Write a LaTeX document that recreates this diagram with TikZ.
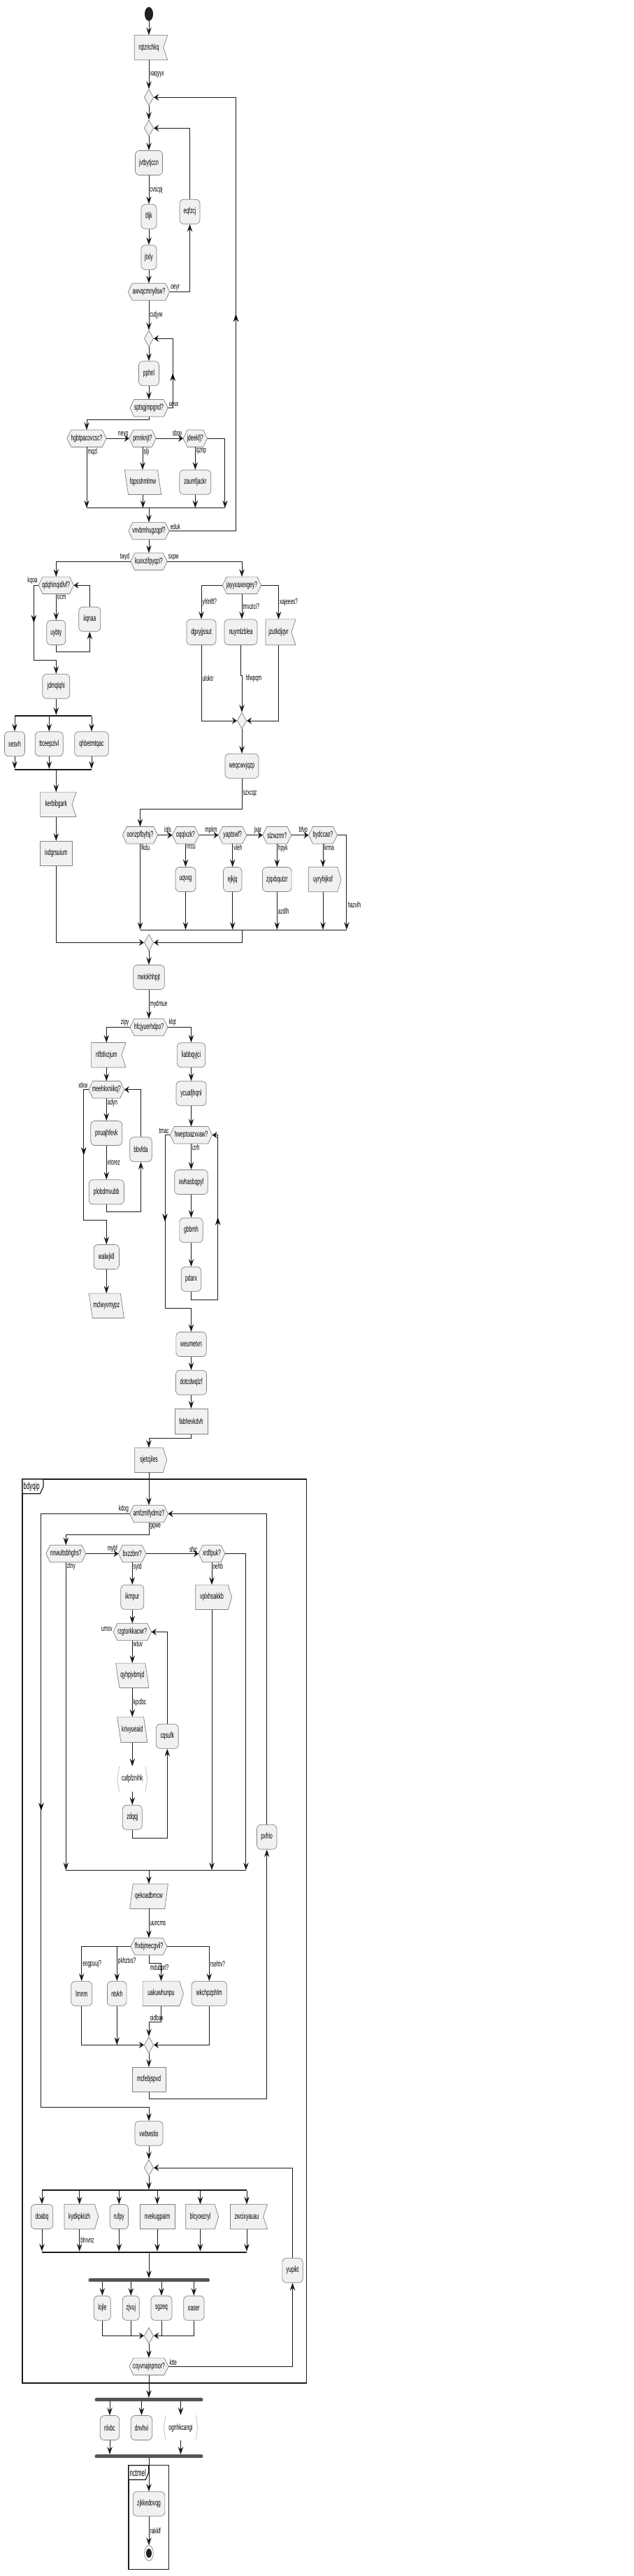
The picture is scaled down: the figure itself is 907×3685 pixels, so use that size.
\documentclass[tikz,border=0pt]{standalone}
\usepackage{fontspec}
\setmainfont{Liberation Sans}[FakeStretch=0.56]
\usepackage{tikz}
\usetikzlibrary{shapes.geometric, arrows.meta, decorations.markings}

\definecolor{nf}{HTML}{F1F1F1}
\definecolor{bc}{HTML}{808080}
\definecolor{lc}{HTML}{1A1A1A}
\definecolor{dk}{HTML}{222222}
\definecolor{fk}{HTML}{555555}

\pgfdeclarelayer{bg}
\pgfdeclarelayer{back}
\pgfsetlayers{bg,back,main}

% outline of a special node, put behind its text
\newcommand{\shapeoutline}[1]{\pgfextra{\begin{pgfonlayer}{back}\filldraw[outl] #1;\end{pgfonlayer}}}

\begin{document}
\begin{tikzpicture}[x=1pt, y=-1pt,
    txt/.style={shape=rectangle, inner sep=0pt, font=\fontsize{12}{13}\selectfont},
    outl/.style={draw=bc, fill=nf, line width=0.7pt},
    act/.style={txt, draw=bc, fill=nf, line width=0.7pt, rounded corners=6pt, minimum height=35pt},
    rbox/.style={txt, draw=bc, fill=nf, line width=0.7pt, minimum height=35pt},
    hexa/.style={txt, minimum height=24pt, append after command={\shapeoutline{(\tikzlastnode.west) -- ([xshift=6pt]\tikzlastnode.north west) -- ([xshift=-6pt]\tikzlastnode.north east) -- (\tikzlastnode.east) -- ([xshift=-6pt]\tikzlastnode.south east) -- ([xshift=6pt]\tikzlastnode.south west) -- cycle}}},
    sendbox/.style={txt, minimum height=35pt, append after command={\shapeoutline{(\tikzlastnode.north west) -- (\tikzlastnode.north east) -- ([xshift=5.5pt]\tikzlastnode.east) -- (\tikzlastnode.south east) -- (\tikzlastnode.south west) -- cycle}}},
    flagbox/.style={txt, minimum height=35pt, append after command={\shapeoutline{(\tikzlastnode.north west) -- ([xshift=6pt]\tikzlastnode.north east) -- (\tikzlastnode.east) -- ([xshift=6pt]\tikzlastnode.south east) -- (\tikzlastnode.south west) -- cycle}}},
    paraL/.style={txt, minimum height=35pt, append after command={\shapeoutline{(\tikzlastnode.north west) -- ([xshift=-5.3pt]\tikzlastnode.north east) -- (\tikzlastnode.south east) -- ([xshift=5.3pt]\tikzlastnode.south west) -- cycle}}},
    paraR/.style={txt, minimum height=35pt, append after command={\shapeoutline{([xshift=4.6pt]\tikzlastnode.north west) -- (\tikzlastnode.north east) -- ([xshift=-4.6pt]\tikzlastnode.south east) -- (\tikzlastnode.south west) -- cycle}}},
    bracketbox/.style={txt, minimum height=36pt, append after command={\pgfextra{\begin{pgfonlayer}{back}
        \draw[draw=bc!55, line width=0.7pt] ([xshift=3pt]\tikzlastnode.north west) -- (\tikzlastnode.west) -- ([xshift=3pt]\tikzlastnode.south west);
        \draw[draw=bc!55, line width=0.7pt] ([xshift=-3pt]\tikzlastnode.north east) -- (\tikzlastnode.east) -- ([xshift=-3pt]\tikzlastnode.south east);
        \end{pgfonlayer}}}},
    merge/.style={shape=diamond, draw=bc, fill=nf, line width=0.7pt, inner sep=0pt, minimum width=13.4pt, minimum height=23.4pt},
    splitbar/.style={shape=rectangle, fill=lc, inner sep=0pt, minimum height=1.8pt},
    forkbar/.style={shape=rectangle, fill=fk, rounded corners=1.5pt, inner sep=0pt, minimum height=5pt},
    line/.style={draw=lc, line width=0.9pt},
    arr/.style={line, -{Stealth[length=11pt, width=7.5pt, inset=4pt]}},
    harr/.style={line, -{Stealth[length=7pt, width=9.5pt, inset=2.5pt]}},
    midtip/.style={postaction={decorate}, decoration={markings, mark=at position 0.5 with {\arrow{Stealth[length=11pt, width=7.5pt, inset=4pt]}}}},
    lbl/.style={inner sep=1.2pt, font=\fontsize{11.5}{12}\selectfont},
    frame/.style={draw=lc, line width=1.2pt},
    tabtext/.style={anchor=west, inner sep=0pt, font=\fontsize{14}{15}\selectfont}
]
\begin{pgfonlayer}{bg}
\fill[white] (0,0) rectangle (907,3685);
\end{pgfonlayer}
\useasboundingbox (0,0) rectangle (907,3685);

% groups
\draw[frame] (32,2116) rectangle (438.7,3409);
\draw[frame, fill=white] (32,2116) -- (62,2116) -- (62,2126.7) -- (57.3,2136.7) -- (32,2136.7) -- cycle;
\node[tabtext] (bdyqip) at (33.5,2126.5) {bdyqip};
\draw[frame] (184,3526.7) rectangle (241.7,3675.7);
\draw[frame, fill=white] (184,3526.7) -- (212.7,3526.7) -- (212.7,3537) -- (208.3,3547.3) -- (184,3547.3) -- cycle;
\node[tabtext] (nctmel) at (185.5,3537) {nctmel};

% top loops
\node[ellipse, fill=dk, minimum width=12pt, minimum height=20pt, inner sep=0pt] (start) at (213,20) {};
\node[flagbox, minimum width=41pt] (rqtz) at (213,68) {rqtzrichkq};
\node[merge] (m1) at (213,139.3) {};
\node[merge] (m2) at (213,183.3) {};
\node[act, minimum width=39pt] (jvtb) at (213,233) {jvtbytjccn};
\node[act, minimum width=22pt] (tlljk) at (213,309.8) {tlljk};
\node[act, minimum width=29pt] (eqfzcj) at (271.5,302.8) {eqfzcj};
\node[act, minimum width=22pt] (jtxly) at (213,368.2) {jtxly};
\node[hexa, minimum width=59pt] (awvq) at (213,417.5) {awvqcmnyllsw?};
\node[merge] (m3) at (213,484.3) {};
\node[act, minimum width=29pt] (pphnl) at (213,534.2) {pphnl};
\node[hexa, minimum width=54pt] (sptsg) at (213,583.7) {sptsgjmpgnd?};

% first if chain
\node[hexa, minimum width=56pt] (hgbt) at (124,627.2) {hgbtpacovcsc?};
\node[hexa, minimum width=38pt] (pmnk) at (204,627.2) {pmnknjt?};
\node[hexa, minimum width=34pt] (jdee) at (279.3,627.2) {jdeekfj?};
\node[paraL, minimum width=52pt] (fqps) at (204.5,689.8) {fqpsshmlmw};
\node[act, minimum width=45pt] (zaum) at (279.3,689.8) {zaumfjackr};
\coordinate (bar1) at (213,726.7);
\node[hexa, minimum width=58pt] (vnvb) at (213,759.5) {vnvbmhugzqpf?};
\node[hexa, minimum width=52pt] (kuxx) at (213,803.2) {kuxxzifpyqzi?};

% left branch
\node[hexa, minimum width=50pt] (qdqh) at (80.3,837.3) {qdqhinqidlvf?};
\node[act, minimum width=27pt] (uybty) at (80.3,905) {uybty};
\node[act, minimum width=31pt] (iiqn) at (128.3,885.8) {iiqnaa};
\node[act, minimum width=39pt] (jdmq) at (80.3,981.8) {jdmqlqhi};
\node[splitbar, minimum width=110.6pt] (splitA) at (76,1024) {};
\node[act, minimum width=29pt] (xesvh) at (21,1064.2) {xesvh};
\node[act, minimum width=40pt] (ttce) at (70.3,1064.2) {ttceepzivl};
\node[act, minimum width=48.6pt] (qhbe) at (131,1064.2) {qhbetmtqac};
\node[splitbar, minimum width=110.6pt] (splitB) at (76,1101) {};
\node[flagbox, minimum width=45pt] (kerb) at (80.3,1150.8) {kerbibgark};
\node[rbox, minimum width=46.6pt] (ixdg) at (80.3,1220.8) {ixdgrsuium};

% right branch
\node[hexa, minimum width=55pt] (jayy) at (346,837.3) {jayyxaxexgey?};
\node[act, minimum width=42pt, minimum height=36.5pt] (dgxy) at (288,904.3) {dgxyjjssut};
\node[act, minimum width=47pt, minimum height=36.5pt] (nuym) at (344.5,904.3) {nuymlzblea};
\node[flagbox, minimum width=36.6pt, minimum height=36.5pt] (jzut) at (398.5,904.3) {jzutkdjqvr};
\node[merge] (m4) at (346,1031) {};
\node[act, minimum width=48pt] (weqc) at (346,1095.8) {weqcwvjqzp};
\node[hexa, minimum width=50pt] (oori) at (200.5,1194.7) {oorizpfbyfsj?};
\node[hexa, minimum width=37.6pt] (oqql) at (265.5,1194.7) {oqqlxzk?};
\node[hexa, minimum width=40pt] (yapt) at (332.7,1194.7) {yaptswf?};
\node[hexa, minimum width=40.6pt] (slzw) at (396.3,1194.7) {slzwzrm?};
\node[hexa, minimum width=40.6pt] (bydc) at (462,1194.7) {bydccao?};
\node[act, minimum width=29pt] (uqvx) at (265.5,1258) {uqvxg};
\node[act, minimum width=26.4pt] (ejkj) at (332.7,1258) {ejkjq};
\node[act, minimum width=41.6pt] (zjqx) at (396.3,1258) {zjqxbqutzr};
\node[sendbox, minimum width=41pt] (uyry) at (462,1258) {uyryhijksf};
\coordinate (barC) at (346,1330);

\node[merge] (m5) at (213,1348.3) {};
\node[act, minimum width=44.6pt] (nwio) at (213,1398) {nwiokhhpjt};
\node[hexa, minimum width=53.6pt] (hfcj) at (213,1469.5) {hfcjyuerhdpo?};

% left loop
\node[flagbox, minimum width=43pt] (nfbt) at (152.3,1509.2) {nfbtlvzjum};
\node[hexa, minimum width=50.6pt] (meeh) at (152.3,1558.7) {meehkxniikq?};
\node[act, minimum width=45pt] (pnua) at (152.3,1621) {pnuajhfevk};
\node[act, minimum width=50.3pt] (plob) at (152.3,1705.2) {plobdmvubb};
\node[act, minimum width=31.6pt] (bbvf) at (201.5,1644.2) {bbvfda};
\node[act, minimum width=36.3pt] (walw) at (152.3,1798) {walwjkll};
\node[paraL, minimum width=50pt] (mclw) at (152.3,1867.8) {mclwyvmypz};

% right loop
\node[act, minimum width=40.3pt] (liab) at (273.5,1509.2) {liabbqyjci};
\node[act, minimum width=43pt] (ycua) at (273.5,1564.2) {ycuafjhqnl};
\node[hexa, minimum width=60pt] (hwep) at (273.5,1623.7) {hweptoazxvaw?};
\node[act, minimum width=47.6pt] (xwha) at (273.5,1691) {xwhasbqpyf};
\node[act, minimum width=33.3pt] (gbbm) at (273.5,1759.8) {gbbmh};
\node[act, minimum width=28.4pt] (pdar) at (273.5,1829.8) {pdarx};
\node[act, minimum width=43.3pt] (weum) at (273.5,1923) {weumetvn};
\node[act, minimum width=44pt] (dotc) at (273.5,1977.8) {dotcdwqlzf};
\node[rbox, minimum width=46.7pt, minimum height=36pt] (fabh) at (273.5,2033.3) {fabhevkdvh};
\node[sendbox, minimum width=40pt] (sjet) at (213,2088.7) {sjetcjiles};

% inside bdyqip
\node[hexa, minimum width=54.6pt] (amfz) at (213,2165.5) {amfzmlfydmiz?};
\node[hexa, minimum width=56.6pt] (nnwu) at (94.3,2222.5) {nnwultsbhghs?};
\node[hexa, minimum width=39.3pt] (bxzz) at (189.3,2222.5) {bxzzbnr?};
\node[hexa, minimum width=37.4pt] (xrdf) at (303,2222.5) {xrdfpuk?};
\node[act, minimum width=33pt] (ikmp) at (189.3,2284.8) {ikmpur};
\node[sendbox, minimum width=46pt] (vplx) at (303,2284.8) {vplxhoakkb};
\node[hexa, minimum width=54.3pt] (rzgt) at (189.3,2334.5) {rzgtorkkacwr?};
\node[paraL, minimum width=47pt] (qyhp) at (189.3,2396.8) {qyhpjvbmjd};
\node[paraL, minimum width=42.7pt, minimum height=36pt] (kriv) at (189.3,2474.3) {krivyueaid};
\node[bracketbox, minimum width=42.7pt] (cafp) at (189.3,2544.8) {cafpfznihk};
\node[act, minimum width=28pt] (zdqq) at (189.3,2599.8) {zdqqj};
\node[act, minimum width=32pt] (cqsu) at (239.3,2483.8) {cqsufk};
\node[act, minimum width=28.4pt] (pxfr) at (381.7,2627.8) {pxfrio};
\coordinate (barD) at (213,2675.3);
\node[paraR, minimum width=54.3pt] (qeko) at (213,2712.7) {qekoadbmcw};
\node[hexa, minimum width=51.6pt] (fhxb) at (213,2784.5) {fhxbjmecgvil?};
\node[act, minimum width=30pt] (lrnn) at (116.7,2851.8) {lrnnm};
\node[act, minimum width=27.6pt] (ntvk) at (167.3,2851.8) {ntvkh};
\node[sendbox, minimum width=52.4pt] (uaku) at (230.5,2851.8) {uakuwhunpu};
\node[act, minimum width=50.6pt] (wkch) at (299.3,2851.8) {wkchpzphlm};
\node[merge] (m6) at (213,2925.3) {};
\node[rbox, minimum width=47.7pt] (mcfe) at (213,2974.8) {mcfebjspvd};
\node[act, minimum width=40pt] (vwbw) at (213,3051.8) {vwbwstio};
\node[merge] (m7) at (213,3101) {};
\node[splitbar, minimum width=293pt] (splitE) at (206.5,3133.3) {};
\node[act, minimum width=31.6pt] (doab) at (60,3171) {doabq};
\node[sendbox, minimum width=43pt] (kydk) at (113.7,3171) {kydkpkiizh};
\node[act, minimum width=26.3pt] (rufp) at (170.3,3171) {rufpy};
\node[rbox, minimum width=50pt] (nvek) at (225,3171) {nvekugpaim};
\node[sendbox, minimum width=41pt] (blcy) at (286.5,3171) {blcyoezryl};
\node[flagbox, minimum width=46.7pt] (zwci) at (353,3171) {zwcixyauau};
\node[splitbar, minimum width=293pt] (splitF) at (206.5,3221.7) {};
\node[act, minimum width=29.3pt] (yupi) at (418.5,3247.8) {yupikt};
\node[forkbar, minimum width=173.3pt] (forkG) at (213.3,3261.7) {};
\node[act, minimum width=24pt] (lojl) at (146.3,3301.8) {lojle};
\node[act, minimum width=24pt] (zjvu) at (187.3,3301.8) {zjvuj};
\node[act, minimum width=30pt] (sgze) at (231,3301.8) {sgzeq};
\node[act, minimum width=29.3pt] (oase) at (277.3,3301.8) {oaser};
\node[merge] (m8) at (213,3341.3) {};
\node[hexa, minimum width=55.6pt] (coyv) at (213,3385.3) {coyvnajnpmor?};

% after the group
\node[forkbar, minimum width=154.6pt] (forkH) at (213,3432.7) {};
\node[act, minimum width=27.4pt] (nlxb) at (157,3473) {nlxbc};
\node[act, minimum width=30.4pt] (dnvh) at (202.5,3473) {dnvhvi};
\node[bracketbox, minimum width=48.4pt] (ognh) at (258.5,3473) {ognhkcangi};
\node[forkbar, minimum width=154.6pt] (joinI) at (213,3513.7) {};
\node[act, minimum width=45.7pt] (zjkk) at (213,3581.8) {zjkkedovqg};
\node[ellipse, draw=bc, fill=white, line width=0.7pt, minimum width=12.6pt, minimum height=22pt, inner sep=0pt] (stop) at (213,3652.3) {};
\node[ellipse, fill=dk, minimum width=8pt, minimum height=13pt, inner sep=0pt] (stopdot) at (213,3652.3) {};

% connectors: top loops
\draw[arr] (start) -- (rqtz);
\draw[arr] (rqtz) -- node[lbl, right] {xaqyyx} (m1);
\draw[arr] (m1) -- (m2);
\draw[arr] (m2) -- (jvtb);
\draw[arr] (jvtb) -- node[lbl, right] {cvscpj} (tlljk);
\draw[arr] (tlljk) -- (jtxly);
\draw[arr] (jtxly) -- (awvq);
\draw[arr] (awvq.east) node[lbl, anchor=south west] {oeyr} -| (eqfzcj.south);
\draw[harr] (eqfzcj.north) |- (m2.east);
\draw[arr] (awvq) -- node[lbl, right] {cutjyw} (m3);
\draw[arr] (m3) -- (pphnl);
\draw[arr] (pphnl) -- (sptsg);
\draw[harr] (sptsg.east) node[lbl, anchor=south west] {uevx} -- ++(7,0) coordinate (uv) |- (m3.east);
\path[midtip] (uv) -- (uv |- m3.east);

% connectors: first if chain
\draw[arr] (sptsg.south) -- ++(0,4.3) -| (hgbt.north);
\draw[harr] (hgbt.east) -- node[lbl, pos=1, anchor=south east] {nevg} (pmnk.west);
\draw[harr] (pmnk.east) -- node[lbl, pos=1, anchor=south east] {sbqy} (jdee.west);
\draw[arr] (hgbt.south) node[lbl, anchor=north west] {mqzl} -- (hgbt.south |- bar1);
\draw[arr] (pmnk.south) node[lbl, anchor=north west] {slji} -- (pmnk.south |- fqps.north);
\draw[arr] (jdee.south) node[lbl, anchor=north west] {qznp} -- (zaum);
\draw[arr] (fqps) -- (fqps |- bar1);
\draw[arr] (zaum) -- (zaum |- bar1);
\draw[arr] (jdee.east) -- ++(25.4,0) coordinate (jd) -- (jd |- bar1);
\draw[line] (hgbt.south |- bar1) -- (jd |- bar1);
\draw[arr] (bar1) -- (vnvb);
\draw[harr] (vnvb.east) node[lbl, anchor=south west] {eduk} -- ++(95.3,0) coordinate (ed) |- (m1.east);
\path[midtip] (ed) -- (ed |- m1.east);
\draw[arr] (vnvb) -- (kuxx);

% connectors: left branch
\draw[arr] (kuxx.west) node[lbl, anchor=south east] {twyd} -| (qdqh.north);
\draw[arr] (qdqh.west) node[lbl, anchor=south east] {kqoa} -- ++(-6.7,0) coordinate (kq) -- ++(0,107) -| (jdmq.north);
\path[midtip] (kq) -- ++(0,107);
\draw[arr] (qdqh.south) node[lbl, anchor=north west] {ocrn} -- (uybty);
\draw[arr] (uybty.south) -- ++(0,9.6) -| (iiqn.south);
\draw[harr] (iiqn.north) |- (qdqh.east);
\draw[arr] (jdmq) -- (jdmq |- splitA.north);
\foreach \n in {xesvh, ttce, qhbe} {
  \draw[arr] (splitA.south -| \n) -- (\n);
  \draw[arr] (\n) -- (\n |- splitB.north);
}
\draw[arr] (splitB.south -| jdmq) -- (kerb);
\draw[arr] (kerb) -- (ixdg);
\draw[harr] (ixdg.south) |- (m5.west);

% connectors: right branch
\draw[arr] (kuxx.east) node[lbl, anchor=south west] {sxpw} -| (jayy.north);
\draw[arr] (jayy.west) -| node[lbl, pos=0.75, anchor=west] {yhlnlft?} (dgxy.north);
\draw[arr] (jayy.south) -- node[lbl, anchor=west] {tmxzici?} (jayy.south |- nuym.north);
\draw[arr] (jayy.east) -| node[lbl, pos=0.75, anchor=west] {xajeees?} (jzut.north);
\draw[harr] (dgxy.south) |- node[lbl, pos=0.22, anchor=west] {uloktr} (m4.west);
\draw[arr] (nuym.south) -- ++(0,44) -| node[lbl, pos=0.53, anchor=west, xshift=4pt] {hfwpqm} (m4.north);
\draw[harr] (jzut.south) |- (m4.east);
\draw[arr] (m4) -- (weqc);
\draw[arr] (weqc.south) -- node[lbl, anchor=west] {szxcqz} ++(0,44) -| (oori.north);
\draw[harr] (oori.east) -- node[lbl, pos=1, anchor=south east] {iqls} (oqql.west);
\draw[harr] (oqql.east) -- node[lbl, pos=1, anchor=south east] {mpkm} (yapt.west);
\draw[harr] (yapt.east) -- node[lbl, pos=1, anchor=south east] {jxar} (slzw.west);
\draw[harr] (slzw.east) -- node[lbl, pos=1, anchor=south east] {bfvp} (bydc.west);
\draw[arr] (oori.south) node[lbl, anchor=north west] {fkdu} -- (oori.south |- barC);
\draw[arr] (oqql.south) node[lbl, anchor=north west] {nrcu} -- (uqvx);
\draw[arr] (yapt.south) node[lbl, anchor=north west] {vleh} -- (ejkj);
\draw[arr] (slzw.south) node[lbl, anchor=north west] {hpyk} -- (zjqx);
\draw[arr] (bydc.south) node[lbl, anchor=north west] {krma} -- (uyry);
\draw[arr] (bydc.east) -- ++(13.4,0) coordinate (hz) -- node[lbl, pos=0.74, anchor=west] {hazvlh} (hz |- barC);
\draw[arr] (uqvx) -- (uqvx |- barC);
\draw[arr] (ejkj) -- (ejkj |- barC);
\draw[arr] (zjqx) -- node[lbl, anchor=west] {azdlh} (zjqx |- barC);
\draw[arr] (uyry) -- (uyry |- barC);
\draw[line] (oori.south |- barC) -- (hz |- barC);
\draw[harr] (barC) |- (m5.east);

% connectors: middle part
\draw[arr] (m5) -- (nwio);
\draw[arr] (nwio) -- node[lbl, right] {mydmue} (hfcj);
\draw[arr] (hfcj.west) node[lbl, anchor=south east] {zipy} -| (nfbt.north);
\draw[arr] (hfcj.east) node[lbl, anchor=south west] {klqt} -| (liab.north);
\draw[arr] (nfbt) -- (meeh);
\draw[arr] (meeh.west) node[lbl, anchor=south east] {xtkw} -- ++(-7,0) coordinate (xt) -- ++(0,187) -| (walw.north);
\path[midtip] (xt) -- ++(0,187);
\draw[arr] (meeh.south) node[lbl, anchor=north west] {adyn} -- (pnua);
\draw[arr] (pnua) -- node[lbl, right] {etorez} (plob);
\draw[arr] (plob.south) -- ++(0,10.6) -| (bbvf.south);
\draw[harr] (bbvf.north) |- (meeh.east);
\draw[arr] (walw) -- (mclw);
\draw[arr] (liab) -- (ycua);
\draw[arr] (ycua) -- (hwep);
\draw[arr] (hwep.west) node[lbl, anchor=south east] {tmac} -- ++(-7.3,0) coordinate (tm) -- ++(0,247.3) -| (weum.north);
\path[midtip] (tm) -- ++(0,247.3);
\draw[arr] (hwep.south) node[lbl, anchor=north west] {izrh} -- (xwha);
\draw[arr] (xwha) -- (gbbm);
\draw[arr] (gbbm) -- (pdar);
\draw[harr] (pdar.south) -- ++(0,12) -- ++(38.2,0) coordinate (pd) |- (hwep.east);
\path[midtip] (pd) -- (pd |- hwep.east);
\draw[arr] (weum) -- (dotc);
\draw[arr] (dotc) -- (fabh);
\draw[arr] (fabh.south) -- ++(0,5.4) -| (sjet.north);
\draw[arr] (sjet) -- (amfz);

% connectors: bdyqip
\draw[arr] (amfz.west) node[lbl, anchor=south east] {kdog} -- ++(-126.6,0) coordinate (kd) -- ++(0,848.8) -| (vwbw.north);
\path[midtip] (kd) -- ++(0,848.8);
\draw[arr] (amfz.south) node[lbl, anchor=north west] {gqwe} -- ++(0,17.6) -| (nnwu.north);
\draw[harr] (nnwu.east) -- node[lbl, pos=1, anchor=south east] {mybf} (bxzz.west);
\draw[harr] (bxzz.east) -- node[lbl, pos=1, anchor=south east] {sfsc} (xrdf.west);
\draw[arr] (xrdf.east) -- ++(30,0) coordinate (xr) -- (xr |- barD);
\draw[arr] (nnwu.south) node[lbl, anchor=north west] {ztny} -- (nnwu.south |- barD);
\draw[arr] (bxzz.south) node[lbl, anchor=north west] {sytd} -- (ikmp);
\draw[arr] (xrdf.south) node[lbl, anchor=north west] {oehb} -- (vplx);
\draw[arr] (ikmp) -- (rzgt);
\node[lbl, anchor=south east] (umsv) at (rzgt.west) {umsv};
\draw[arr] (rzgt.south) node[lbl, anchor=north west] {wtuv} -- (qyhp);
\draw[arr] (qyhp) -- node[lbl, right] {kpclbc} (kriv);
\draw[arr] (kriv) -- (cafp);
\draw[arr] (cafp) -- (zdqq);
\draw[arr] (zdqq.south) -- ++(0,12) -| (cqsu.south);
\draw[harr] (cqsu.north) |- (rzgt.east);
\draw[arr] (vplx) -- (vplx |- barD);
\draw[line] (nnwu.south |- barD) -- (xr |- barD);
\draw[arr] (barD) -- (qeko);
\draw[arr] (qeko) -- node[lbl, right] {uuncms} (fhxb);
\draw[arr] (fhxb.west) -| node[lbl, pos=0.75, anchor=west] {eogpuuj?} (lrnn.north);
\draw[arr] (ntvk.north |- fhxb.west) -- node[lbl, pos=0.42, anchor=west] {pkhztxs?} (ntvk.north);
\draw[arr] (fhxb.south) -- ++(0,11.6) node[lbl, anchor=north west] {mdubprl?} -| (uaku.north);
\draw[arr] (fhxb.east) -| node[lbl, pos=0.75, anchor=west] {rsehtv?} (wkch.north);
\draw[harr] (lrnn.south) |- (m6.west);
\draw[arr] (ntvk.south) -- (ntvk.south |- m6.west);
\draw[arr] (uaku.south) -- ++(0,22.5) -| node[lbl, pos=0.5, anchor=south west] {oidbax} (m6.north);
\draw[harr] (wkch.south) |- (m6.east);
\draw[arr] (m6) -- (mcfe);
\draw[arr] (mcfe.south) -- ++(0,10) -| (pxfr.south);
\draw[harr] (pxfr.north) |- (amfz.east);
\draw[arr] (vwbw) -- (m7);
\draw[arr] (m7) -- (m7 |- splitE.north);
\foreach \n in {doab, kydk, rufp, nvek, blcy, zwci}
  \draw[arr] (splitE.south -| \n) -- (\n);
\foreach \n in {doab, rufp, nvek, blcy, zwci}
  \draw[arr] (\n) -- (\n |- splitF.north);
\draw[arr] (kydk) -- node[lbl, anchor=west] {bhrvnz} (kydk |- splitF.north);
\draw[arr] (splitF.south -| m7) -- (m7 |- forkG.north);
\foreach \n in {lojl, zjvu, sgze, oase}
  \draw[arr] (forkG.south -| \n) -- (\n);
\draw[harr] (lojl.south) |- (m8.west);
\draw[line] (zjvu.south) -- (zjvu.south |- m8.west);
\draw[line] (sgze.south) -- (sgze.south |- m8.east);
\draw[harr] (oase.south) |- (m8.east);
\draw[arr] (m8) -- (coyv);
\draw[arr] (coyv.east) node[lbl, anchor=south west] {ktte} -| (yupi.south);
\draw[harr] (yupi.north) |- (m7.east);

% connectors: end
\draw[arr] (coyv) -- (forkH);
\foreach \n in {nlxb, dnvh, ognh}
  \draw[arr] (forkH.south -| \n) -- (\n);
\draw[arr] (nlxb) -- (nlxb |- joinI.north);
\draw[arr] (ognh) -- (ognh |- joinI.north);
\draw[arr] (joinI) -- (zjkk);
\draw[arr] (zjkk) -- node[lbl, right] {rakklf} (stop);
\end{tikzpicture}
\end{document}
